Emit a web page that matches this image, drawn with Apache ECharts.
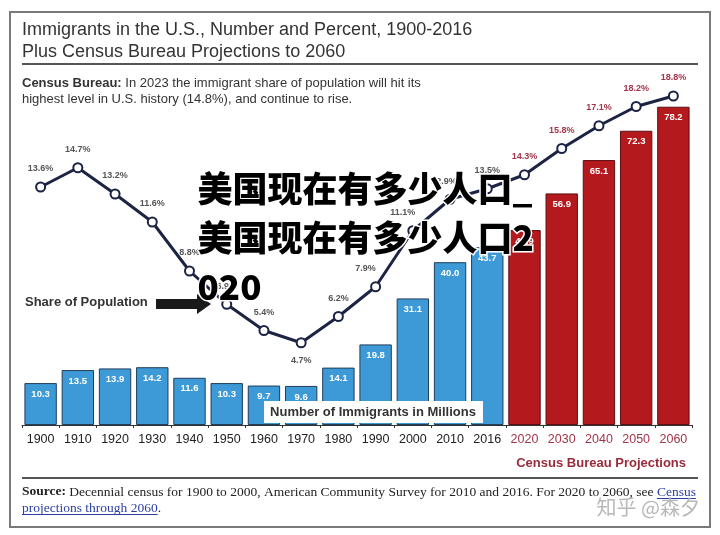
<!DOCTYPE html>
<html><head><meta charset="utf-8">
<script src="https://cdn.jsdelivr.net/npm/echarts@6/dist/echarts.min.js"></script>
<style>html,body{margin:0;padding:0;background:#fff}#c{width:720px;height:535px}</style>
</head><body><div id="c"></div>
<script>
// ---- data ----
const years = ['1900','1910','1920','1930','1940','1950','1960','1970','1980','1990','2000','2010','2016','2020','2030','2040','2050','2060'];
const immigrantsMillions = [10.3,13.5,13.9,14.2,11.6,10.3,9.7,9.6,14.1,19.8,31.1,40.0,43.7,47.9,56.9,65.1,72.3,78.2];
const sharePercent = [13.6,14.7,13.2,11.6,8.8,6.9,5.4,4.7,6.2,7.9,11.1,12.9,13.5,14.3,15.8,17.1,18.2,18.8];
const firstProjectionYear = '2020';

const titleLines = ['Immigrants in the U.S., Number and Percent, 1900-2016','Plus Census Bureau Projections to 2060'];
const noteBold = 'Census Bureau:';
const noteLine1 = ' In 2023 the immigrant share of population will hit its';
const noteLine2 = 'highest level in U.S. history (14.8%), and continue to rise.';
const sourceBold = 'Source:';
const sourceText = ' Decennial census for 1900 to 2000, American Community Survey for 2010 and 2016. For 2020 to 2060, see ';
const sourceLink1 = 'Census';
const sourceLink2 = 'projections through 2060';
const overlayText = '美国现在有多少人口_美国现在有多少人口2020';
const watermark = '知乎 @森夕';

// ---- styling ----
const projIdx = years.indexOf(firstProjectionYear);
const isProj = i => i >= projIdx;
const BLUE = '#3d9ad6', BLUE_B = '#1f3d5c', RED = '#b3191d', RED_B = '#5e0e10';
const PROJ_TXT = '#a3354a';
const SANS = 'Liberation Sans, Arial, Helvetica, sans-serif';
const SERIF = 'Liberation Serif, Times New Roman, serif';
const labelOffsets = {'1990':[-10,0],'2000':[-10,0],'2010':[-6,0]};

const barData = immigrantsMillions.map((v,i)=>({
  value: v,
  itemStyle: {color: isProj(i)?RED:BLUE, borderColor: isProj(i)?RED_B:BLUE_B, borderWidth: 1}
}));
const lineData = sharePercent.map((v,i)=>({
  value: v,
  label: {
    position: years[i]==='1970' ? 'bottom' : 'top',
    offset: labelOffsets[years[i]] || [0,0],
    color: isProj(i)?PROJ_TXT:'#555'
  }
}));

// text measuring for underline
const ctx = document.createElement('canvas').getContext('2d');
function tw(t, font){ ctx.font = font; return ctx.measureText(t).width; }
const SRC_SIZE = 13.5;
const srcFont = SRC_SIZE + 'px ' + SERIF;
const srcBoldFont = 'bold ' + SRC_SIZE + 'px ' + SERIF;
const x0 = 22;
const linkStart = x0 + tw(sourceBold, srcBoldFont) + tw(sourceText, srcFont);
const linkW1 = tw(sourceLink1, srcFont);
const linkW2 = tw(sourceLink2, srcFont);
const srcRich = {
  b: {fontWeight: 'bold', fontFamily: SERIF, fontSize: SRC_SIZE, fill: '#222', lineHeight: 16},
  n: {fontFamily: SERIF, fontSize: SRC_SIZE, fill: '#222', lineHeight: 16},
  l: {fontFamily: SERIF, fontSize: SRC_SIZE, fill: '#2b3fa8', lineHeight: 16}
};

const chart = echarts.init(document.getElementById('c'), null, {renderer:'canvas'});
chart.setOption({
  animation: false,
  backgroundColor: '#fff',
  grid: {left: 22, right: 28, top: 75, bottom: 110, containLabel: false},
  xAxis: {
    type: 'category', data: years, boundaryGap: true,
    axisLine: {lineStyle: {color: '#333', width: 1}},
    axisTick: {show: true, length: 3, lineStyle: {color: '#333'}},
    axisLabel: {interval: 0, fontSize: 12.5, fontFamily: SANS, margin: 8,
      color: (val, idx) => (years.indexOf(val) >= projIdx ? PROJ_TXT : '#222')}
  },
  yAxis: [
    {type: 'value', min: 0, max: 86, show: false, splitLine: {show: false}},
    {type: 'value', min: 0, max: 20, show: false, splitLine: {show: false}}
  ],
  series: [
    {
      type: 'bar', data: barData, yAxisIndex: 0, barCategoryGap: '13%',
      label: {show: true, position: 'insideTop', distance: 6, color: '#fff', fontWeight: 'bold', fontSize: 9.5, fontFamily: SANS,
        formatter: p => p.value.toFixed(1)},
      z: 2
    },
    {
      type: 'line', data: lineData, yAxisIndex: 1,
      symbol: 'circle', symbolSize: 9,
      lineStyle: {color: '#1c2444', width: 3},
      itemStyle: {color: '#fff', borderColor: '#1c2444', borderWidth: 2},
      label: {show: true, fontSize: 9, fontWeight: 'bold', fontFamily: SANS, distance: 8,
        formatter: p => p.value.toFixed(1) + '%'},
      z: 5
    }
  ],
  graphic: [
    {type: 'rect', shape: {x: 10, y: 12, width: 700, height: 515}, style: {fill: 'none', stroke: '#7a7a7a', lineWidth: 2}, z: 1},
    {type: 'text', left: 22, top: 19, style: {text: titleLines.join('\n'), font: '18px ' + SANS, fill: '#333', lineHeight: 22}},
    {type: 'line', shape: {x1: 22, y1: 64, x2: 698, y2: 64}, style: {stroke: '#555', lineWidth: 2}},
    {type: 'text', left: 22, top: 77, style: {
      text: '{b|' + noteBold + '}{n|' + noteLine1 + '}\n{n|' + noteLine2 + '}',
      rich: {
        b: {fontWeight: 'bold', fontSize: 13, fontFamily: SANS, fill: '#333', lineHeight: 16},
        n: {fontSize: 13, fontFamily: SANS, fill: '#333', lineHeight: 16}
      }
    }},
    {type: 'text', left: 25, top: 296, style: {text: 'Share of Population', font: 'bold 13px ' + SANS, fill: '#333'}, z: 10},
    {type: 'polygon', shape: {points: [[156,299],[197,299],[197,294],[211,304],[197,314],[197,309],[156,309]]}, style: {fill: '#1a1a1a'}, z: 10},
    {type: 'rect', shape: {x: 264, y: 401, width: 219, height: 22}, style: {fill: '#fff'}, z: 10},
    {type: 'text', x: 373, y: 412, style: {text: 'Number of Immigrants in Millions', font: 'bold 13px ' + SANS, fill: '#333', align: 'center', verticalAlign: 'middle'}, z: 11},
    {type: 'text', x: 686, y: 463, style: {text: 'Census Bureau Projections', font: 'bold 13px ' + SANS, fill: '#9a2b3c', align: 'right', verticalAlign: 'middle'}},
    {type: 'line', shape: {x1: 22, y1: 478, x2: 698, y2: 478}, style: {stroke: '#555', lineWidth: 2}},
    {type: 'text', x: x0, y: 484, style: {
      text: '{b|' + sourceBold + '}{n|' + sourceText + '}{l|' + sourceLink1 + '}\n{l|' + sourceLink2 + '}{n|.}',
      rich: srcRich
    }},
    {type: 'line', shape: {x1: linkStart, y1: 498.5, x2: linkStart + linkW1, y2: 498.5}, style: {stroke: '#2b3fa8', lineWidth: 1}},
    {type: 'line', shape: {x1: x0, y1: 514.5, x2: x0 + linkW2, y2: 514.5}, style: {stroke: '#2b3fa8', lineWidth: 1}},
    {type: 'text', x: 700, y: 507, style: {text: watermark, font: '20px Noto Sans CJK SC, sans-serif', fill: '#b8b8b8', align: 'right', verticalAlign: 'middle'}, z: 20},
    {type: 'text', left: 196, top: 164, style: {
      text: overlayText.slice(0,10) + '\n' + overlayText.slice(10,20) + '\n' + overlayText.slice(20),
      font: '900 35px Noto Sans CJK SC, sans-serif', fill: '#000', lineHeight: 49,
      stroke: '#fff', lineWidth: 3
    }, z: 30}
  ]
});
</script></body></html>
